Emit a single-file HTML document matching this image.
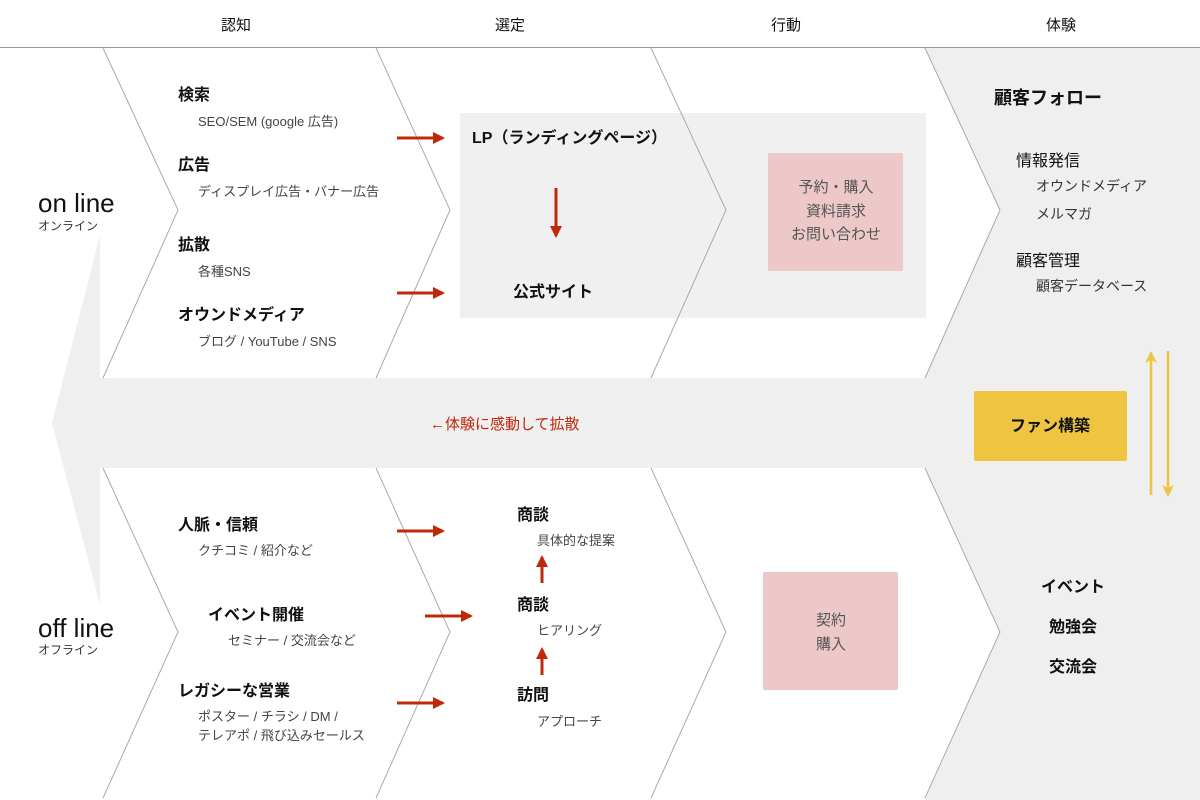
<!DOCTYPE html>
<html><head><meta charset="utf-8"><style>
body{margin:0;width:1200px;height:800px;background:#fff;overflow:hidden}
svg{display:block}
text{font-family:"Liberation Sans","Noto Sans CJK JP",sans-serif}
.b{font-size:16px;font-weight:bold;fill:#111}
.s{font-size:13px;fill:#444}
.h{font-size:15px;fill:#111}
.p{font-size:15px;fill:#555}
</style></head><body>
<svg width="1200" height="800" viewBox="0 0 1200 800">
<defs>
<marker id="r" markerWidth="12" markerHeight="12" refX="10" refY="6" orient="auto" markerUnits="userSpaceOnUse"><path d="M0,0 L12,6 L0,12 Z" fill="#c0280a"/></marker>
<marker id="y" markerWidth="12" markerHeight="12" refX="10" refY="6" orient="auto" markerUnits="userSpaceOnUse"><path d="M0,0 L12,6 L0,12 L3,6 Z" fill="#eec441"/></marker>
</defs>
<line x1="0" y1="47.5" x2="1200" y2="47.5" stroke="#999" stroke-width="1"/>
<text x="236" y="30" class="h" text-anchor="middle">認知</text>
<text x="510" y="30" class="h" text-anchor="middle">選定</text>
<text x="786" y="30" class="h" text-anchor="middle">行動</text>
<text x="1061" y="30" class="h" text-anchor="middle">体験</text>
<polygon points="925,48 1200,48 1200,800 925,800 1000,632 925,468 925,378 1000,210" fill="#efefef"/>
<rect x="100" y="378" width="1100" height="90" fill="#efefef"/>
<polygon points="100,235 52,423 100,605" fill="#efefef"/>
<rect x="460" y="113" width="466" height="205" fill="#f0f0f0"/>
<g stroke="#aaa" stroke-width="1" fill="none">
<polyline points="103,48 178,210 103,378"/>
<polyline points="376,48 450,210 376,378"/>
<polyline points="651,48 726,210 651,378"/>
<polyline points="925,48 1000,210 925,378"/>
<polyline points="103,468 178,632 103,798"/>
<polyline points="376,468 450,632 376,798"/>
<polyline points="651,468 726,632 651,798"/>
<polyline points="925,468 1000,632 925,798"/>
</g>
<text x="38" y="212" font-size="26" fill="#111">on line</text>
<text x="38" y="230" font-size="12" fill="#333">オンライン</text>
<text x="38" y="637" font-size="26" fill="#111">off line</text>
<text x="38" y="654" font-size="12" fill="#333">オフライン</text>
<text x="178" y="100" class="b">検索</text>
<text x="198" y="126" class="s">SEO/SEM (google 広告)</text>
<text x="178" y="170" class="b">広告</text>
<text x="198" y="196" class="s">ディスプレイ広告・バナー広告</text>
<text x="178" y="250" class="b">拡散</text>
<text x="198" y="276" class="s">各種SNS</text>
<text x="178" y="320" class="b">オウンドメディア</text>
<text x="198" y="346" class="s">ブログ / YouTube / SNS</text>
<g stroke="#c0280a" stroke-width="3">
<line x1="397" y1="138" x2="443" y2="138" marker-end="url(#r)"/>
<line x1="397" y1="293" x2="443" y2="293" marker-end="url(#r)"/>
<line x1="556" y1="188" x2="556" y2="236" marker-end="url(#r)"/>
<line x1="397" y1="531" x2="443" y2="531" marker-end="url(#r)"/>
<line x1="425" y1="616" x2="471" y2="616" marker-end="url(#r)"/>
<line x1="397" y1="703" x2="443" y2="703" marker-end="url(#r)"/>
<line x1="542" y1="583" x2="542" y2="557" marker-end="url(#r)"/>
<line x1="542" y1="675" x2="542" y2="649" marker-end="url(#r)"/>
</g>
<text x="472" y="143" class="b">LP（ランディングページ）</text>
<text x="513" y="297" class="b">公式サイト</text>
<rect x="768" y="153" width="135" height="118" rx="2" fill="#ecc8c9"/>
<text x="836" y="192" class="p" text-anchor="middle">予約・購入</text>
<text x="836" y="216" class="p" text-anchor="middle">資料請求</text>
<text x="836" y="239" class="p" text-anchor="middle">お問い合わせ</text>
<text x="994" y="104" font-size="18" font-weight="bold" fill="#111">顧客フォロー</text>
<text x="1016" y="166" font-size="16" fill="#111">情報発信</text>
<text x="1036" y="191" font-size="14" fill="#333">オウンドメディア</text>
<text x="1036" y="219" font-size="14" fill="#333">メルマガ</text>
<text x="1016" y="266" font-size="16" fill="#111">顧客管理</text>
<text x="1036" y="291" font-size="14" fill="#333">顧客データベース</text>
<rect x="974" y="391" width="153" height="70" rx="2" fill="#eec441"/>
<text x="1050" y="431" text-anchor="middle" class="b">ファン構築</text>
<g stroke="#eec441" stroke-width="2.5">
<line x1="1151" y1="495" x2="1151" y2="353" marker-end="url(#y)"/>
<line x1="1168" y1="351" x2="1168" y2="495" marker-end="url(#y)"/>
</g>
<text x="430" y="429" font-size="15" fill="#c0280a">←体験に感動して拡散</text>
<text x="178" y="530" class="b">人脈・信頼</text>
<text x="198" y="555" class="s">クチコミ / 紹介など</text>
<text x="208" y="620" class="b">イベント開催</text>
<text x="228" y="645" class="s">セミナー / 交流会など</text>
<text x="178" y="696" class="b">レガシーな営業</text>
<text x="198" y="721" class="s">ポスター / チラシ / DM /</text>
<text x="198" y="740" class="s">テレアポ / 飛び込みセールス</text>
<text x="517" y="520" class="b">商談</text>
<text x="537" y="545" class="s">具体的な提案</text>
<text x="517" y="610" class="b">商談</text>
<text x="537" y="635" class="s">ヒアリング</text>
<text x="517" y="700" class="b">訪問</text>
<text x="537" y="726" class="s">アプローチ</text>
<rect x="763" y="572" width="135" height="118" rx="2" fill="#ecc8c9"/>
<text x="831" y="625" text-anchor="middle" class="p">契約</text>
<text x="831" y="649" text-anchor="middle" class="p">購入</text>
<text x="1073" y="592" text-anchor="middle" class="b">イベント</text>
<text x="1073" y="632" text-anchor="middle" class="b">勉強会</text>
<text x="1073" y="672" text-anchor="middle" class="b">交流会</text>
</svg>
</body></html>
